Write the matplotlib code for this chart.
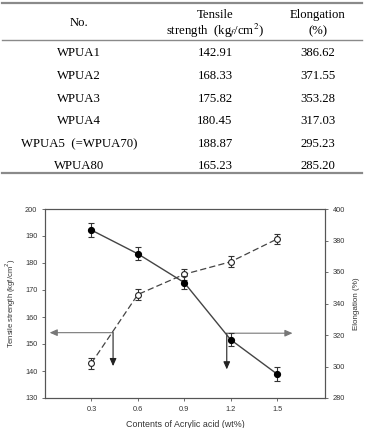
import matplotlib
matplotlib.use("Agg")
import matplotlib.pyplot as plt
from matplotlib.lines import Line2D

# table data
samples = ["WPUA1", "WPUA2", "WPUA3", "WPUA4", "WPUA5  (=WPUA70)", "WPUA80"]
tensile_tab = ["142.91", "168.33", "175.82", "180.45", "188.87", "165.23"]
elong_tab = ["386.62", "371.55", "353.28", "317.03", "295.23", "285.20"]

# chart data
acrylic = [0.3, 0.6, 0.9, 1.2, 1.5]
tensile = [142.91, 168.33, 175.82, 180.45, 188.87]
tensile_err = [2.0, 2.0, 2.0, 2.0, 2.0]
elongation = [386.62, 371.55, 353.28, 317.03, 295.23]
elong_err = [4.2, 4.2, 4.2, 4.2, 4.2]
xticks = [0.3, 0.6, 0.9, 1.2, 1.5]

# guide arrows (x0, y0, x1, y1) in left-axis units
guide_arrows = [(0.44, 154.2, 0.03, 154.2), (0.44, 154.2, 0.44, 141.8),
                (1.175, 154.0, 1.60, 154.0), (1.175, 154.0, 1.175, 140.6)]
arrow_colors = ["#777777", "#222222", "#777777", "#222222"]

fig = plt.figure(figsize=(3.65, 4.28), dpi=100)
W, H = 365, 428

serif = ["Liberation Serif", "DejaVu Serif"]
tfs = 9.2
grey = "#8a8a8a"

def fy(y):
    return 1 - y / H

def hline(y, lw):
    fig.add_artist(Line2D([2 / W, 362 / W], [fy(y), fy(y)], color=grey, lw=lw,
                          transform=fig.transFigure))

hline(3, 1.6)
hline(40, 1.0)
hline(173, 1.6)

col_x = [79 / W, 215 / W, 318 / W]
fig.text(col_x[0], fy(23), "No.", ha="center", va="center", family=serif, fontsize=tfs)
fig.text(col_x[1], fy(15), "Tensile", ha="center", va="center", family=serif, fontsize=tfs)
fig.text(col_x[1], fy(31), r"strength  (kg$_f$/cm$^2$)", ha="center", va="center",
         family=serif, fontsize=tfs, math_fontfamily="stix")
fig.text(col_x[2], fy(15), "Elongation", ha="center", va="center", family=serif, fontsize=tfs)
fig.text(col_x[2], fy(31), "(%)", ha="center", va="center", family=serif, fontsize=tfs)

row_y = [53, 76, 98.5, 121, 144, 166]
for i in range(len(samples)):
    fig.text(col_x[0], fy(row_y[i]), samples[i], ha="center", va="center", family=serif, fontsize=tfs)
    fig.text(col_x[1], fy(row_y[i]), tensile_tab[i], ha="center", va="center", family=serif, fontsize=tfs)
    fig.text(col_x[2], fy(row_y[i]), elong_tab[i], ha="center", va="center", family=serif, fontsize=tfs)

# chart
sans = ["Liberation Sans", "DejaVu Sans"]
fs = 5.3
ax = fig.add_axes([45 / W, 1 - 398 / H, 280 / W, 189 / H])
ax2 = ax.twinx()

ax.errorbar(acrylic, tensile, yerr=tensile_err, color="#444444", ls=(0, (5, 2.5)), lw=0.9,
            marker="o", ms=4.2, mfc="white", mec="#222222", mew=0.8,
            ecolor="#333333", elinewidth=0.8, capsize=2.5, capthick=0.8, zorder=3)
ax2.errorbar(acrylic, elongation, yerr=elong_err, color="#444444", ls="-", lw=1.0,
             marker="o", ms=4.2, mfc="black", mec="black",
             ecolor="#333333", elinewidth=0.8, capsize=2.5, capthick=0.8, zorder=3)

for (x0, y0, x1, y1), c in zip(guide_arrows, arrow_colors):
    ax.annotate("", xy=(x1, y1), xytext=(x0, y0),
                arrowprops=dict(arrowstyle="-|>,head_length=0.45,head_width=0.2",
                                color=c, lw=0.8, shrinkA=0, shrinkB=0))

ax.set_xlim(0, 1.81)
ax.set_ylim(130, 200)
ax2.set_ylim(280, 400)
ax.set_xticks(xticks)
ax.set_xticklabels([f"{v:.1f}" for v in xticks])
ax.set_yticks(range(130, 201, 10))
ax2.set_yticks(range(280, 401, 20))

for a in (ax, ax2):
    for s in a.spines.values():
        s.set_color("#555555")
        s.set_linewidth(0.8)
    a.tick_params(labelsize=fs, length=2.5, width=0.6, color="#555555", labelcolor="#333333", pad=3)
    for lab in a.get_xticklabels() + a.get_yticklabels():
        lab.set_family(sans)

ax.set_xlabel("Contents of Acrylic acid (wt%)", family=sans, fontsize=6.4, color="#333333", labelpad=5)
ax.set_ylabel("Tensile strength (kgf/cm$^2$)", family=sans, fontsize=5.5, color="#333333",
              labelpad=5, math_fontfamily="dejavusans")
ax2.set_ylabel("Elongation (%)", family=sans, fontsize=5.8, color="#333333", labelpad=6)

fig.savefig("out.png", dpi=100)
